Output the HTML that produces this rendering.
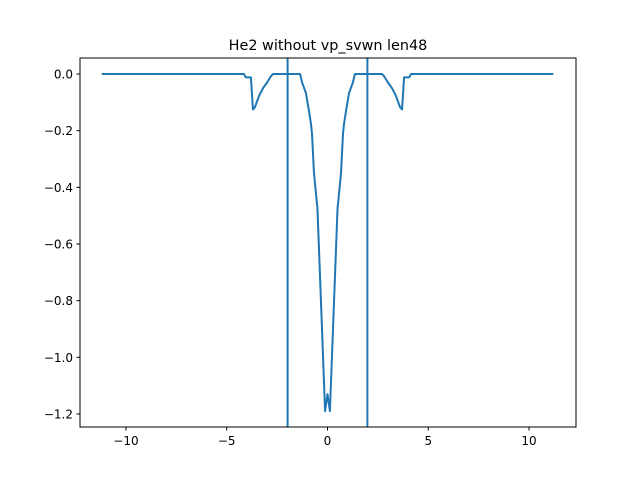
<!DOCTYPE html>
<html><head><meta charset="utf-8"><style>
body{margin:0;background:#fff}
svg text{font-family:"DejaVu Sans","Liberation Sans",sans-serif;font-size:12px;fill:#000}
</style></head><body>
<svg id="chart" width="640" height="480" xmlns="http://www.w3.org/2000/svg">
<rect width="640" height="480" fill="#fff"/>
<text x="328" y="50" text-anchor="middle" style="font-size:14.4px">He2 without vp_svwn len48</text>
<g id="plot"></g>
<rect x="80" y="58" width="496" height="369" fill="none" stroke="#000" stroke-width="1"/>
</svg>
<script>
const xVals=[-11.2,-4.15,-4.05,-3.95,-3.8,-3.7,-3.6,-3.4,-3.2,-3.0,-2.8,-2.7,-1.36,-1.26,-1.07,-0.92,-0.82,-0.77,-0.67,-0.52,-0.5,-0.12,0,0.12,0.5,0.52,0.67,0.77,0.82,0.92,1.07,1.26,1.36,2.7,2.8,3.0,3.2,3.4,3.6,3.7,3.8,3.95,4.05,4.15,11.2];
const yVals=[0,0,-0.012,-0.012,-0.012,-0.125,-0.117,-0.078,-0.05,-0.03,-0.007,0,0,-0.03,-0.067,-0.13,-0.176,-0.21,-0.35,-0.46,-0.47,-1.19,-1.13,-1.19,-0.47,-0.46,-0.35,-0.21,-0.176,-0.13,-0.067,-0.03,0,0,-0.007,-0.03,-0.05,-0.078,-0.117,-0.125,-0.012,-0.012,-0.012,0,0];
const vLines=[-1.98,1.98];
const xTicks=[-10,-5,0,5,10];
const xTickLabels=["−10","−5","0","5","10"];
const yTicks=[0,-0.2,-0.4,-0.6,-0.8,-1.0,-1.2];
const yTickLabels=["0.0","−0.2","−0.4","−0.6","−0.8","−1.0","−1.2"];
const L=80,R=576,T=58,B=427,xmin=-12.28,xmax=12.33,ymin=-1.246,ymax=0.0565;
const sx=v=>L+(v-xmin)/(xmax-xmin)*(R-L);
const sy=v=>B-(v-ymin)/(ymax-ymin)*(B-T);
const g=document.getElementById('plot');
const NS='http://www.w3.org/2000/svg';
function mk(t,a){const e=document.createElementNS(NS,t);for(const k in a)e.setAttribute(k,a[k]);g.appendChild(e);return e;}
xTicks.forEach((v,i)=>{
 const l=mk('line',{x1:sx(v),x2:sx(v),y1:B,y2:B+3.5,stroke:'#000'});
 
 
 const t=mk('text',{x:sx(v),y:B+18,'text-anchor':'middle'});t.textContent=xTickLabels[i];
 
 
});
yTicks.forEach((v,i)=>{
 const l=mk('line',{x1:L-3.5,x2:L,y1:sy(v),y2:sy(v),stroke:'#000'});
 
 
 const t=mk('text',{x:L-7,y:sy(v)+4.5,'text-anchor':'end'});t.textContent=yTickLabels[i];
 
 
});
vLines.forEach(v=>{
 const l=mk('line',{x1:sx(v),x2:sx(v),y1:T,y2:B,stroke:'#1f77b4','stroke-width':2});
 
 
});
const p=mk('polyline',{points:xVals.map((x,i)=>sx(x)+','+sy(yVals[i])).join(' '),fill:'none',stroke:'#1f77b4','stroke-width':2,'stroke-linejoin':'round'});


</script>
</body></html>
